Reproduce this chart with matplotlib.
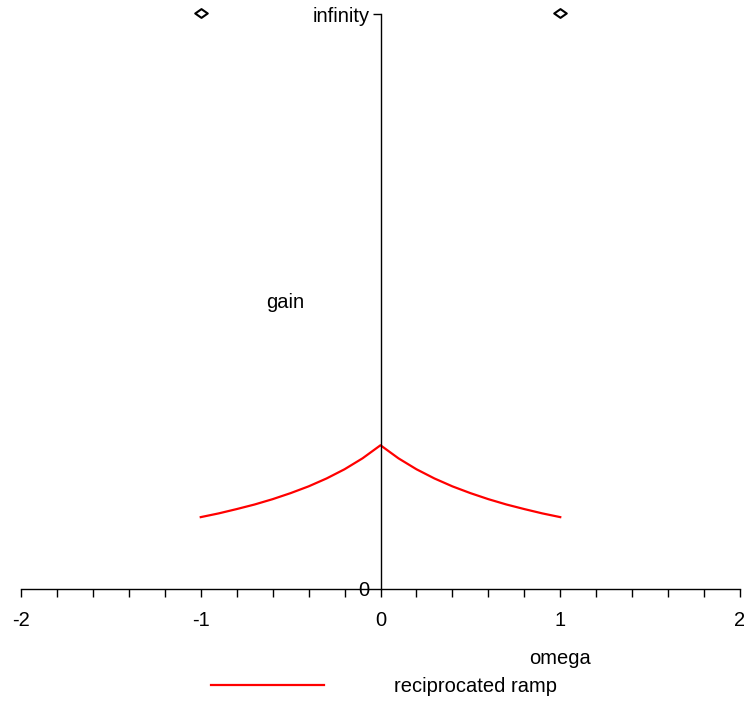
import numpy as np
import matplotlib
matplotlib.use("Agg")
import matplotlib.pyplot as plt
from matplotlib.path import Path

plt.rcParams['font.family'] = ['Liberation Sans', 'DejaVu Sans']

# reciprocated ramp gain, 1/(1+|omega|), read at omega steps of 0.1
omega = [-1.0, -0.9, -0.8, -0.7, -0.6, -0.5, -0.4, -0.3, -0.2, -0.1, 0.0,
         0.1, 0.2, 0.3, 0.4, 0.5, 0.6, 0.7, 0.8, 0.9, 1.0]
gain = [0.50, 0.526, 0.556, 0.588, 0.625, 0.667, 0.714, 0.769, 0.833, 0.909, 1.0,
        0.909, 0.833, 0.769, 0.714, 0.667, 0.625, 0.588, 0.556, 0.526, 0.50]

# points at infinity
inf_omega = [-1.0, 1.0]
INF = 4.0  # where "infinity" sits on the gain axis
inf_gain = [INF, INF]

x_ticks = [-2, -1, 0, 1, 2]
x_ticklabels = ['-2', '-1', '0', '1', '2']

W, H = 744, 706
fig = plt.figure(figsize=(W / 100, H / 100), dpi=100)
ax = fig.add_axes([21 / W, 1 - 589 / H, (740 - 21) / W, (589 - 14) / H])
ax.set_xlim(-2, 2)
ax.set_ylim(0, INF)

fs = 14.5
ax.plot(omega, gain, color='red', lw=1.6, label='reciprocated ramp', clip_on=False)

diamond = Path([(-1, 0), (0, 0.7), (1, 0), (0, -0.7), (-1, 0)],
               [Path.MOVETO, Path.LINETO, Path.LINETO, Path.LINETO, Path.CLOSEPOLY])
ax.plot(inf_omega, [g + 0.01 for g in inf_gain], ls='none', marker=diamond, ms=9,
        mfc='white', mec='black', mew=1.5, clip_on=False)

# axes through the origin
for s in ['top', 'right']:
    ax.spines[s].set_visible(False)
ax.spines['left'].set_position(('data', 0))
ax.spines['bottom'].set_position(('data', 0))
ax.spines['left'].set_linewidth(1.0)
ax.spines['bottom'].set_linewidth(1.0)

ax.set_xticks(x_ticks)
ax.set_xticklabels(x_ticklabels, fontsize=fs)
ax.set_xticks(np.arange(-2, 2.01, 0.2), minor=True)
ax.tick_params(axis='x', which='both', direction='out', length=6, width=1.0, pad=10)

ax.set_yticks([0, INF])
ax.set_yticklabels(['0', 'infinity'], fontsize=fs)
ax.tick_params(axis='y', which='major', direction='out', length=6, width=1.0, pad=2)
ax.yaxis.get_ticklines()[0].set_visible(False)

ax.text(-0.53, 1.99, 'gain', fontsize=fs, ha='center', va='center')
ax.text(1.0, -0.48, 'omega', fontsize=fs, ha='center', va='center')

ax.legend(loc='center left', bbox_to_anchor=(211 / W, 1 - 687 / H),
          bbox_transform=fig.transFigure, frameon=False, fontsize=fs,
          handlelength=5.6, handletextpad=3.5, borderpad=0, borderaxespad=0)

fig.savefig('out.png', dpi=100)
